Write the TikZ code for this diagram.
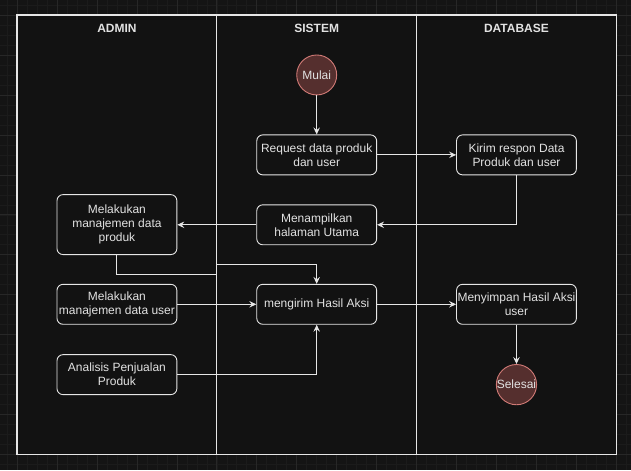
\documentclass[tikz,border=0pt]{standalone}
\usepackage{fontspec}
\setmainfont{Liberation Sans}
\usetikzlibrary{arrows.meta}

\definecolor{canvas}{HTML}{141414}
\definecolor{gridminor}{HTML}{1B1B1B}
\definecolor{gridmajor}{HTML}{272727}
\definecolor{panel}{HTML}{121212}
\definecolor{stroke}{HTML}{E6E6E6}
\definecolor{label}{HTML}{E2E2E2}
\definecolor{termfill}{HTML}{552F2E}
\definecolor{termline}{HTML}{D07A76}

\tikzset{
  lane/.style={draw=stroke, line width=1.1pt},
  lanehead/.style={text=label, font=\fontsize{12}{14}\selectfont\bfseries},
  activity/.style={draw=stroke, line width=0.9pt, rounded corners=6pt,
    minimum width=120pt, minimum height=40pt, inner sep=0pt,
    align=center, text=label, fill=panel},
  terminal/.style={circle, draw=termline, fill=termfill, line width=0.9pt,
    minimum size=40pt, inner sep=0pt, text=label},
  flow/.style={draw=stroke, line width=0.9pt,
    -{Stealth[length=7pt, width=6.5pt, inset=2.5pt]}},
}

\begin{document}
\begin{tikzpicture}[x=1pt, y=-1pt, font=\fontsize{12}{14}\selectfont]
  % canvas with grid
  \fill[canvas] (0,0) rectangle (631,470);
  \foreach \gx in {6.7,16.7,...,631} \draw[gridminor, line width=0.6pt] (\gx,0) -- (\gx,470);
  \foreach \gy in {4.7,14.7,...,470} \draw[gridminor, line width=0.6pt] (0,\gy) -- (631,\gy);
  \foreach \gx in {16.7,56.7,...,631} \draw[gridmajor, line width=0.7pt] (\gx,0) -- (\gx,470);
  \foreach \gy in {14.7,54.7,...,470} \draw[gridmajor, line width=0.7pt] (0,\gy) -- (631,\gy);
  \useasboundingbox (0,0) rectangle (631,470);

  % swimlane pool
  \fill[panel] (16.7,14.7) rectangle (616.7,454.3);
  \draw[lane] (16.7,14.7) rectangle (616.7,454.3);
  \draw[lane] (216.7,14.7) -- (216.7,454.3);
  \draw[lane] (416.7,14.7) -- (416.7,454.3);
  \node[lanehead] (hadmin) at (116.7,28.5) {ADMIN};
  \node[lanehead] (hsistem) at (316.7,28.5) {SISTEM};
  \node[lanehead] (hdb) at (516.7,28.5) {DATABASE};

  % activities
  \node[terminal] (mulai) at (316.7,74.7) {Mulai};
  \node[activity] (request) at (316.7,154.7) {Request data produk\\dan user};
  \node[activity] (kirim) at (516.7,154.7) {Kirim respon Data\\Produk dan user};
  \node[activity, minimum height=60pt] (produk) at (116.7,224.5) {Melakukan\\manajemen data\\produk};
  \node[activity] (tampil) at (316.7,224.7) {Menampilkan\\halaman Utama};
  \node[activity] (user) at (116.7,304.3) {Melakukan\\manajemen data user};
  \node[activity] (aksi) at (316.7,304.3) {mengirim Hasil Aksi};
  \node[activity] (simpan) at (516.7,304.3) {Menyimpan Hasil Aksi\\user};
  \node[activity] (analisis) at (116.7,374.7) {Analisis Penjualan\\Produk};
  \node[terminal] (selesai) at (516.7,384.7) {Selesai};

  % bend points of the produk connector
  \coordinate (bendlow) at (216.7,274.3);
  \coordinate (bendhigh) at (216.7,264.3);

  % connectors
  \draw[flow] (mulai) -- (request);
  \draw[flow] (request) -- (kirim);
  \draw[flow] (kirim.south) |- (tampil.east);
  \draw[flow] (tampil.west) -- (produk.east |- tampil.west);
  \draw[flow] (produk.south) |- (bendlow) -- (bendhigh) -| (aksi.north);
  \draw[flow] (user.east) -- (aksi.west);
  \draw[flow] (analisis.east) -| (aksi.south);
  \draw[flow] (aksi) -- (simpan);
  \draw[flow] (simpan) -- (selesai);
\end{tikzpicture}
\end{document}
